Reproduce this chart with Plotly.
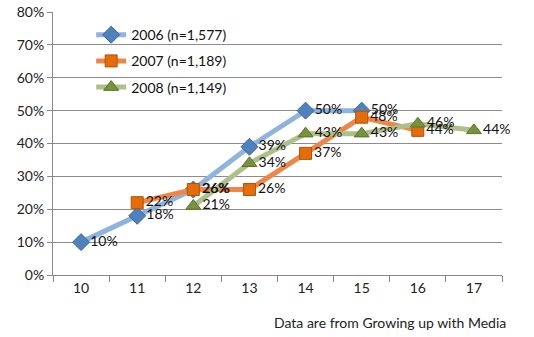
import plotly.graph_objects as go

ages = ["10", "11", "12", "13", "14", "15", "16", "17"]

# Share of youth by age, per survey wave (None = not surveyed)
wave_2006 = [10, 18, 26, 39, 50, 50, None, None]
wave_2007 = [None, 22, 26, 26, 37, 48, 44, None]
wave_2008 = [None, None, 21, 34, 43, 43, 46, 44]

series_names = ["2006 (n=1,577)", "2007 (n=1,189)", "2008 (n=1,149)"]
y_ticks = [0, 10, 20, 30, 40, 50, 60, 70, 80]

FONT = "Lato, 'Open Sans', sans-serif"

styles = [
    dict(line="#8FB3DF", fill="#4F81BD", edge="#3A6394", symbol="diamond", size=13),
    dict(line="#EF8546", fill="#E46C0A", edge="#B0530A", symbol="square", size=12),
    dict(line="#AEBF8C", fill="#77933C", edge="#5B722C", symbol="triangle-up", size=13),
]

waves = [wave_2006, wave_2007, wave_2008]
points = []
for vals in waves:
    xs = [a for a, v in zip(ages, vals) if v is not None]
    ys = [v for v in vals if v is not None]
    points.append((xs, ys))

fig = go.Figure()

# Lines and markers
for i, (name, (xs, ys), st) in enumerate(zip(series_names, points, styles)):
    fig.add_trace(go.Scatter(
        x=xs, y=ys, name=name, legendgroup=f"g{i}",
        mode="lines+markers",
        line=dict(color=st["line"], width=5),
        marker=dict(symbol=st["symbol"], size=st["size"], color=st["fill"],
                    line=dict(color=st["edge"], width=1)),
    ))

# Value labels drawn above every series (transparent markers keep the offset)
for i, ((xs, ys), st) in enumerate(zip(points, styles)):
    fig.add_trace(go.Scatter(
        x=xs, y=ys, mode="markers+text", showlegend=False, hoverinfo="skip",
        marker=dict(size=st["size"], color="rgba(0,0,0,0)"),
        text=[f"{v}%" for v in ys],
        textposition="middle right",
        textfont=dict(family=FONT, size=14, color="#111111"),
        cliponaxis=False,
    ))

fig.update_layout(
    width=534, height=337,
    margin=dict(l=53, r=32, t=12, b=62, autoexpand=False),
    paper_bgcolor="white", plot_bgcolor="white",
    font=dict(family=FONT, size=14, color="#222222"),
    showlegend=True,
    legend=dict(
        x=0.085, y=0.973, xanchor="left", yanchor="top",
        bgcolor="rgba(0,0,0,0)", traceorder="grouped", tracegroupgap=5,
        font=dict(family=FONT, size=14, color="#111111"),
        itemwidth=30,
    ),
    xaxis=dict(
        type="category", categoryorder="array", categoryarray=ages,
        range=[-0.5, 7.5], tickson="boundaries", automargin=False,
        ticks="outside", ticklen=6, tickcolor="#888888",
        showline=True, linecolor="#888888", linewidth=1,
        showgrid=False, tickfont=dict(family=FONT, size=14, color="#222222"),
    ),
    yaxis=dict(
        range=[0, 80], tickvals=y_ticks, ticktext=[f"{t}%" for t in y_ticks],
        automargin=False,
        ticks="outside", ticklen=5, tickcolor="#888888",
        showline=True, linecolor="#888888", linewidth=1,
        showgrid=True, gridcolor="#8C8C8C", gridwidth=1,
        zeroline=False, tickfont=dict(family=FONT, size=14, color="#222222"),
    ),
    annotations=[dict(
        text="Data are from Growing up with Media",
        xref="paper", yref="paper", x=1.013, y=-0.18,
        xanchor="right", yanchor="middle", showarrow=False,
        font=dict(family=FONT, size=14, color="#222222"),
    )],
)

fig.write_html("out.html")
